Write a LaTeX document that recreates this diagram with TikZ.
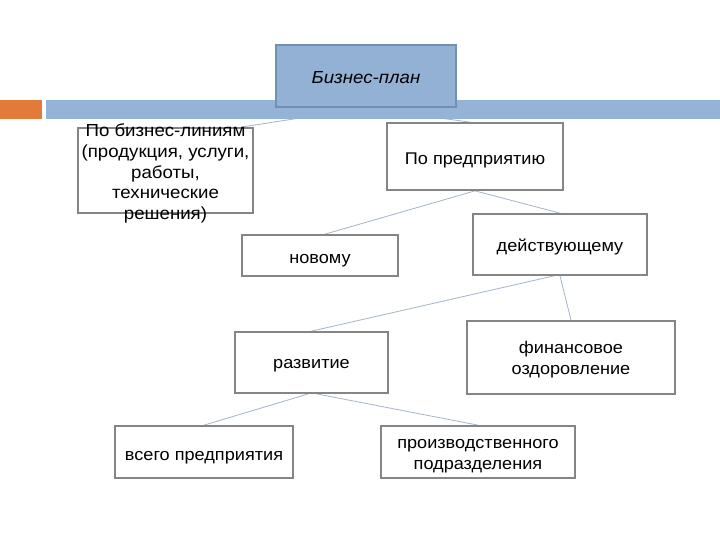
\documentclass[tikz,border=0pt]{standalone}
\usepackage{fontspec}
\setmainfont[FakeStretch=1.07]{Liberation Sans}
\pgfdeclarelayer{paper}
\pgfdeclarelayer{conn}
\pgfdeclarelayer{bar}
\pgfsetlayers{paper,conn,bar,main}
\definecolor{barblue}{HTML}{95B3D7}
\definecolor{bpfill}{HTML}{93B1D4}
\definecolor{bpborder}{HTML}{7090B4}
\definecolor{barorange}{HTML}{E27A3A}
\definecolor{boxgray}{HTML}{858585}
\definecolor{conncol}{HTML}{A3B5C8}
\begin{document}
\begin{tikzpicture}[x=1bp,y=-1bp,
  box/.style={draw=boxgray, line width=1.7bp, fill=white, inner sep=0pt},
  conn/.style={draw=conncol, line width=0.8bp},
  txt/.style={inner sep=0pt, align=center, font=\fontsize{17}{21.5}\selectfont}]
\useasboundingbox (0,0) rectangle (720,540);
\begin{pgfonlayer}{paper}
\fill[white] (0,0) rectangle (720,540);
\end{pgfonlayer}

\node[box, fill=bpfill, draw=bpborder, minimum width=180bp, minimum height=62bp] (bp) at (366,76) {};
\node[txt, font=\fontsize{17.5}{21}\selectfont\itshape] (bptext) at ([yshift=-2bp]bp.center) {Бизнес-план};

\node[box, minimum width=175bp, minimum height=85bp] (lines) at (165.5,170.5) {};
\node[txt, font=\fontsize{17.5}{20.8}\selectfont] (linestext) at ([yshift=-3bp]lines.center) {По бизнес-линиям\\(продукция, услуги,\\работы,\\технические\\решения)};

\node[box, minimum width=176bp, minimum height=67bp] (pred) at (475,156.5) {};
\node[txt] (predtext) at ([yshift=-4bp]pred.center) {По предприятию};

\node[box, minimum width=156bp, minimum height=41bp] (new) at (320,255.5) {};
\node[txt] (newtext) at ([yshift=-5bp]new.center) {новому};

\node[box, minimum width=174bp, minimum height=61bp] (act) at (560,244.5) {};
\node[txt] (acttext) at ([yshift=-2bp]act.center) {действующему};

\node[box, minimum width=153bp, minimum height=61bp] (dev) at (311.5,362.5) {};
\node[txt] (devtext) at ([yshift=-3bp]dev.center) {развитие};

\node[box, minimum width=208bp, minimum height=73bp] (fin) at (571,357.5) {};
\node[txt] (fintext) at ([yshift=-2bp]fin.center) {финансовое\\оздоровление};

\node[box, minimum width=178bp, minimum height=52bp] (all) at (204,452) {};
\node[txt] (alltext) at ([yshift=-6bp]all.center) {всего предприятия};

\node[box, minimum width=194bp, minimum height=52bp] (prod) at (478,452) {};
\node[txt] (prodtext) at ([yshift=-4bp]prod.center) {производственного\\подразделения};

\begin{pgfonlayer}{conn}
\draw[conn] (bp.south) -- ([xshift=-13bp]lines.north east);
\draw[conn] (bp.south) -- ([xshift=-5bp]pred.north);
\draw[conn] (pred.south) -- ([xshift=5bp]new.north);
\draw[conn] (pred.south) -- (act.north);
\draw[conn] ([xshift=-6bp]act.south) -- (dev.north);
\draw[conn] (act.south) -- (fin.north);
\draw[conn] ([xshift=-3bp]dev.south) -- (all.north);
\draw[conn] ([xshift=5bp]dev.south) -- (prod.north);
\end{pgfonlayer}

\begin{pgfonlayer}{bar}
\fill[barorange] (0,100) rectangle (42,119);
\fill[barblue] (46,100) rectangle (720,119);
\end{pgfonlayer}
\end{tikzpicture}
\end{document}
